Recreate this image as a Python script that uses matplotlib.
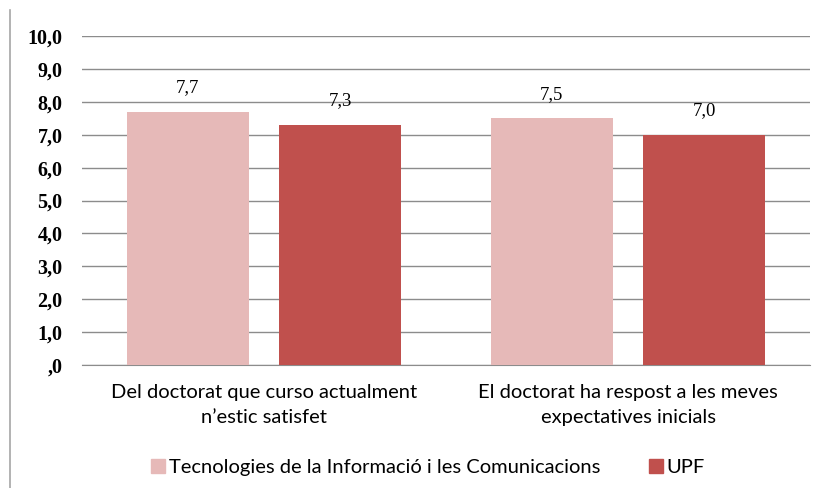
import matplotlib
matplotlib.use("Agg")
import matplotlib.pyplot as plt
import numpy as np
from matplotlib.lines import Line2D

categories = ["Del doctorat que curso actualment\nn’estic satisfet",
              "El doctorat ha respost a les meves\nexpectatives inicials"]
series_names = ["Tecnologies de la Informació i les Comunicacions", "UPF"]
tic_values = [7.7, 7.5]
upf_values = [7.3, 7.0]
yticks = [0, 1, 2, 3, 4, 5, 6, 7, 8, 9, 10]
ytick_labels = [",0", "1,0", "2,0", "3,0", "4,0", "5,0", "6,0", "7,0", "8,0", "9,0", "10,0"]

colors = ["#E6B9B8", "#C0504D"]

fig = plt.figure(figsize=(8.21, 4.88), dpi=100)
ax = fig.add_axes([82/821, 1-365/488, 728/821, 329/488])

x = np.arange(len(categories))
w = 0.335
off = 0.209
b1 = ax.bar(x - off, tic_values, w, color=colors[0], zorder=3)
b2 = ax.bar(x + off, upf_values, w, color=colors[1], zorder=3)

for bars, vals in ((b1, tic_values), (b2, upf_values)):
    for rect, v in zip(bars, vals):
        ax.annotate(f"{v:.1f}".replace(".", ","),
                    (rect.get_x() + rect.get_width()/2, v),
                    xytext=(0, 11), textcoords="offset points",
                    ha="center", va="bottom", fontsize=13.5,
                    family="Liberation Serif", color="#000000")

ax.set_xlim(-0.5, 1.5)
ax.set_ylim(0, 10)
ax.set_yticks(yticks)
ax.set_yticklabels(ytick_labels, fontsize=14.5, fontweight="bold", family="Liberation Serif")
ax.yaxis.grid(True, color="#8C8C8C", linewidth=1.0, zorder=0)
ax.set_axisbelow(True)
ax.tick_params(axis="y", length=0, pad=14)
ax.tick_params(axis="x", length=0, pad=14)
ax.set_xticks(x)
ax.set_xticklabels(categories, fontsize=14.5, family="Lato", linespacing=1.55)
for s in ("top", "right", "left"):
    ax.spines[s].set_visible(False)
ax.spines["bottom"].set_color("#8C8C8C")

handles = [Line2D([0], [0], marker="s", linestyle="none", markersize=9.5,
                  markerfacecolor=c, markeredgecolor=c) for c in colors]
fig.legend(handles, series_names, loc="center", bbox_to_anchor=(428/821, 1-467/488),
           ncol=2, frameon=False, prop={"family": "Lato", "size": 14.5},
           handlelength=0.7, handletextpad=0.2, columnspacing=2.4)

fig.add_artist(Line2D([10/821, 10/821], [0, 1-10/488], transform=fig.transFigure,
                      color="#A6A6A6", linewidth=1.2))

fig.savefig("out.png", dpi=100)
